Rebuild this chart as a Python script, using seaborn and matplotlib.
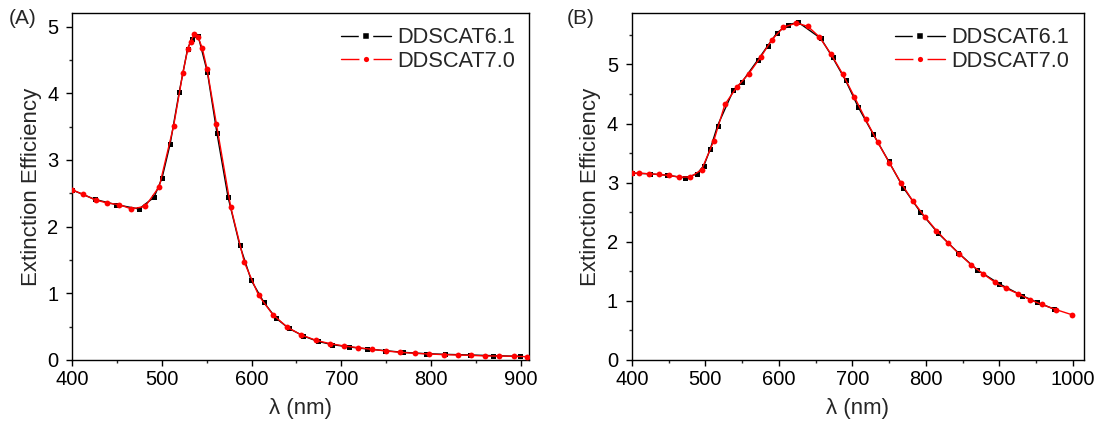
import matplotlib
matplotlib.use("Agg")
import matplotlib.pyplot as plt
from matplotlib.ticker import MultipleLocator
import seaborn as sns
import pandas as pd

# ---- Panel A: extinction efficiency spectra ----
a61_wl = [400, 424.8, 449, 474.4, 491.1, 500, 509.2, 519.2, 528.5, 533, 540.3,
          550.7, 561.4, 573.7, 586.7, 599.6, 613.7, 627, 641.4, 657.8, 673.7,
          690, 709.2, 729.2, 749, 768.9, 794.1, 815.6, 844, 869, 899]
a61_q = [2.55, 2.41, 2.33, 2.265, 2.44, 2.725, 3.245, 4.015, 4.66, 4.81, 4.865,
         4.315, 3.40, 2.445, 1.725, 1.195, 0.865, 0.63, 0.475, 0.36, 0.28,
         0.23, 0.195, 0.165, 0.14, 0.115, 0.095, 0.085, 0.075, 0.065, 0.055]

a70_wl = [400, 411.9, 425.9, 438.9, 452.6, 465.9, 481.4, 497, 513, 523.3, 528.9,
          531.9, 535.9, 540.3, 544.8, 550.3, 560.8, 576.7, 591.9, 607.8, 623.7,
          640, 655.6, 671.9, 687.4, 703.3, 718.6, 734.1, 749.7, 765.9, 782.2,
          797.8, 814.8, 829.7, 844.4, 860.8, 876.5, 892.9, 907.7]
a70_q = [2.55, 2.485, 2.40, 2.355, 2.33, 2.265, 2.305, 2.60, 3.51, 4.305, 4.67,
         4.775, 4.885, 4.84, 4.685, 4.365, 3.535, 2.295, 1.465, 0.97, 0.68,
         0.49, 0.375, 0.295, 0.245, 0.21, 0.185, 0.16, 0.135, 0.115, 0.10,
         0.09, 0.08, 0.075, 0.07, 0.06, 0.06, 0.055, 0.05]

# ---- Panel B ----
b61_wl = [400, 424, 448, 472, 488.4, 498, 506.7, 516.6, 538, 549.4, 571.6,
          584.9, 597.5, 612.6, 626.7, 657.2, 673.1, 690.9, 708, 728.5, 749.5,
          769.5, 792.6, 816.4, 844.5, 870.4, 900, 931, 951, 974.1]
b61_q = [3.16, 3.15, 3.125, 3.083, 3.145, 3.29, 3.57, 3.965, 4.56, 4.695, 5.08,
         5.315, 5.535, 5.675, 5.71, 5.44, 5.12, 4.73, 4.28, 3.82, 3.36,
         2.915, 2.505, 2.15, 1.81, 1.52, 1.29, 1.088, 0.98, 0.863]

b70_wl = [400, 409.3, 422.9, 436.2, 449.8, 463.8, 479.4, 494.8, 511.2, 526.6,
          543, 558.9, 575.3, 590.7, 606.3, 624, 639.4, 654.8, 670.8, 687.2,
          702.9, 718.2, 734.5, 750.3, 766.3, 782.3, 798.6, 814.5, 830.8, 845.4,
          861.8, 877.8, 893.6, 909.5, 925.9, 941.9, 957.7, 977.8, 998.6]
b70_q = [3.162, 3.162, 3.15, 3.14, 3.123, 3.095, 3.095, 3.218, 3.70, 4.325,
         4.62, 4.84, 5.125, 5.42, 5.63, 5.70, 5.645, 5.47, 5.18, 4.83,
         4.45, 4.07, 3.685, 3.34, 2.995, 2.69, 2.425, 2.19, 1.975, 1.795,
         1.61, 1.46, 1.32, 1.21, 1.12, 1.02, 0.94, 0.85, 0.767]

series_labels = ["DDSCAT6.1", "DDSCAT7.0"]
panel_tags = ["(A)", "(B)"]

sns.set_style("ticks")
plt.rcParams["font.family"] = ["Liberation Sans", "DejaVu Sans"]
plt.rcParams["axes.linewidth"] = 1.0
for k in ["xtick.major.width", "ytick.major.width",
          "xtick.minor.width", "ytick.minor.width"]:
    plt.rcParams[k] = 1.0

fig = plt.figure(figsize=(10.99, 4.28), dpi=100)
fig.patch.set_facecolor("white")

ax_a = fig.add_axes([0.0658, 0.1589, 0.4160, 0.8100])
ax_b = fig.add_axes([0.5750, 0.1589, 0.4111, 0.8100])

panels = [
    (ax_a, a61_wl, a61_q, a70_wl, a70_q, (400, 910), 5.2, [400, 500, 600, 700, 800, 900]),
    (ax_b, b61_wl, b61_q, b70_wl, b70_q, (400, 1015), 5.865, [400, 500, 600, 700, 800, 900, 1000]),
]

for i, (ax, w1, q1, w2, q2, xl, ytop, xt) in enumerate(panels):
    d1 = pd.DataFrame({"wl": w1, "q": q1})
    d2 = pd.DataFrame({"wl": w2, "q": q2})
    sns.lineplot(data=d1, x="wl", y="q", ax=ax, color="black", linewidth=1.0,
                 marker="s", markersize=3.6, markeredgewidth=0,
                 label=series_labels[0], zorder=2)
    sns.lineplot(data=d2, x="wl", y="q", ax=ax, color="#ff0000", linewidth=1.0,
                 marker="o", markersize=4.2, markeredgewidth=0,
                 label=series_labels[1], zorder=3)
    ax.set_xlim(*xl)
    ax.set_ylim(0, ytop)
    ax.set_xticks(xt)
    ax.xaxis.set_minor_locator(MultipleLocator(50))
    ax.yaxis.set_major_locator(MultipleLocator(1))
    ax.yaxis.set_minor_locator(MultipleLocator(0.5))
    ax.tick_params(which="major", direction="out", length=4, labelsize=14.5,
                   pad=3, top=False, right=False, colors="black")
    ax.tick_params(axis="y", which="major", pad=6)
    ax.tick_params(which="minor", direction="out", length=2.5,
                   top=False, right=False)
    for s in ax.spines.values():
        s.set_visible(True)
        s.set_color("black")
    ax.set_xlabel("λ (nm)", fontsize=16, labelpad=7)
    ax.set_ylabel("Extinction Efficiency", fontsize=16, labelpad=4)
    ax.set_facecolor("white")
    leg = ax.legend(loc="upper right", frameon=False, fontsize=15.7,
                    handlelength=2.3, handletextpad=0.3, labelspacing=0.1,
                    borderaxespad=0.25)
    # leave a small gap in the legend line around each symbol
    for h in leg.legend_handles:
        h.set_markeredgecolor("white")
        h.set_markeredgewidth(3.2)
        h.set_markersize(7)

fig.text(0.008, 0.957, panel_tags[0], fontsize=15, ha="left", va="center")
fig.text(0.516, 0.957, panel_tags[1], fontsize=15, ha="left", va="center")

fig.savefig("out.png", dpi=100, facecolor="white")
